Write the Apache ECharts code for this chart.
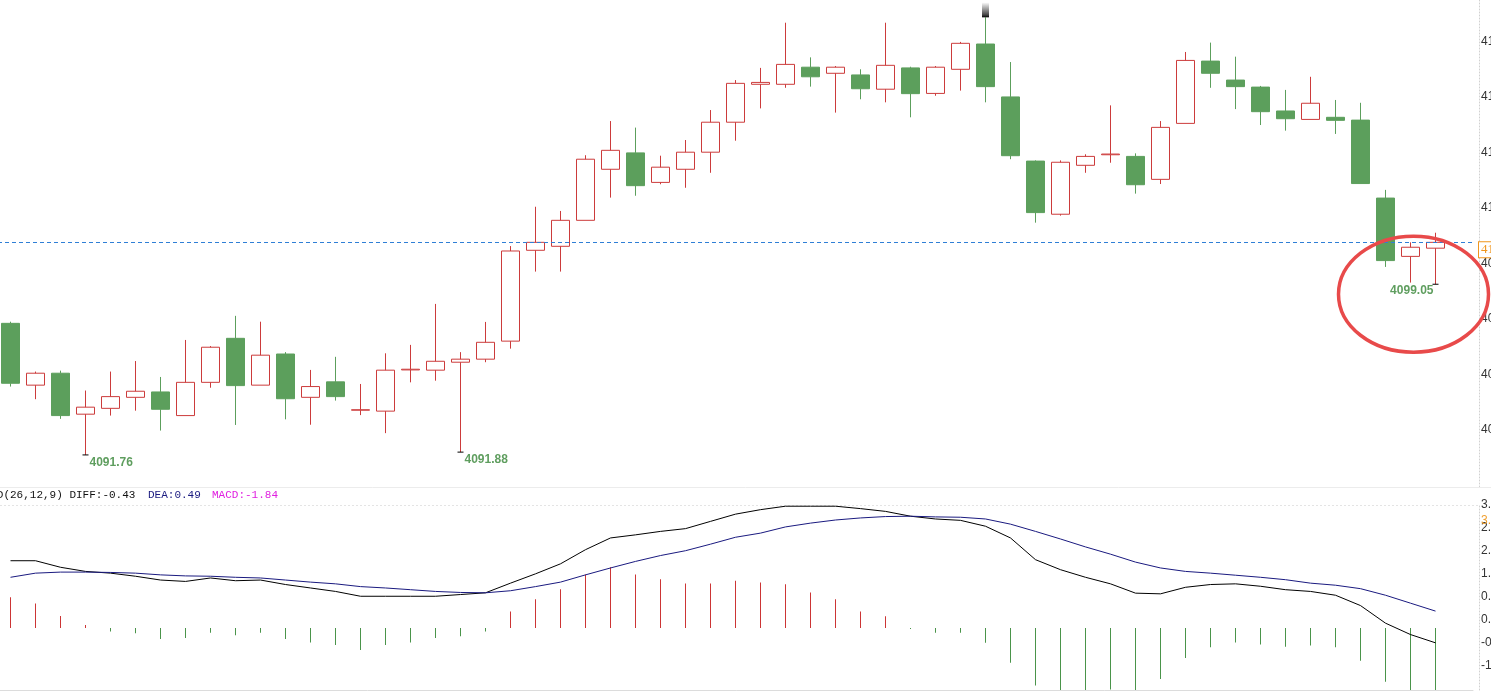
<!DOCTYPE html>
<html><head><meta charset="utf-8">
<script src="https://cdn.jsdelivr.net/npm/echarts@6/dist/echarts.min.js"></script>
<style>html,body{margin:0;padding:0;background:#fff;overflow:hidden;}#c{width:1491px;height:693px;}</style>
</head><body><div id="c"></div>
<script>
const categories = ['1','2','3','4','5','6','7','8','9','10','11','12','13','14','15','16','17','18','19','20',
  '21','22','23','24','25','26','27','28','29','30','31','32','33','34','35','36','37','38','39','40',
  '41','42','43','44','45','46','47','48','49','50','51','52','53','54','55','56','57','58'];
const opens = [4097.38,4094.74,4095.25,4093.50,4093.75,4094.22,4094.45,4093.44,4094.86,4096.74,
  4094.74,4096.07,4094.22,4094.88,4093.67,4093.63,4095.39,4095.38,4095.72,4095.85,
  4096.62,4100.50,4100.67,4101.78,4103.96,4104.66,4103.40,4103.96,4104.69,4105.97,
  4107.59,4107.59,4108.32,4108.06,4107.99,4107.38,4108.29,4107.20,4108.23,4109.31,
  4107.05,4104.31,4102.04,4104.13,4104.58,4104.51,4103.53,4105.92,4108.58,4107.77,
  4107.47,4106.45,4106.09,4106.18,4106.06,4102.73,4100.24,4100.59];
const closes = [4094.82,4095.25,4093.44,4093.80,4094.25,4094.48,4093.71,4094.86,4096.36,4094.72,
  4096.02,4094.16,4094.68,4094.25,4093.69,4095.38,4095.42,4095.76,4095.85,4096.57,
  4100.47,4100.84,4101.78,4104.39,4104.77,4103.26,4104.05,4104.69,4105.97,4107.63,
  4107.67,4108.44,4107.91,4108.32,4107.40,4108.40,4107.19,4108.32,4109.34,4107.49,
  4104.54,4102.11,4104.26,4104.51,4104.61,4103.30,4105.75,4108.61,4108.06,4107.49,
  4106.42,4106.12,4106.78,4106.05,4103.35,4100.06,4100.63,4100.84];
const lows = [4094.68,4094.14,4093.30,4091.76,4093.44,4093.65,4092.80,4093.44,4094.63,4093.04,
  4094.74,4093.28,4093.05,4094.08,4093.46,4092.69,4094.86,4094.93,4091.88,4095.72,
  4096.30,4099.59,4099.59,4101.78,4102.75,4102.83,4103.32,4103.17,4103.81,4105.18,
  4106.56,4107.44,4107.49,4106.38,4106.95,4106.82,4106.18,4107.10,4107.32,4106.82,
  4104.39,4101.68,4101.98,4103.81,4104.24,4102.92,4103.33,4105.92,4107.44,4106.53,
  4105.85,4105.61,4106.09,4105.47,4103.35,4099.79,4099.12,4099.05];
const highs = [4097.45,4095.32,4095.36,4094.51,4095.32,4095.77,4095.09,4096.67,4096.41,4097.70,
  4097.45,4096.15,4095.39,4095.95,4094.79,4096.10,4096.46,4098.21,4096.15,4097.44,
  4100.68,4102.36,4102.18,4104.56,4106.02,4105.74,4104.54,4105.21,4106.49,4107.77,
  4108.29,4110.22,4108.74,4108.37,4108.23,4110.22,4108.34,4108.37,4109.40,4110.45,
  4108.54,4104.34,4104.34,4104.60,4106.69,4104.64,4106.02,4108.97,4109.37,4108.77,
  4107.52,4107.35,4107.91,4106.92,4106.80,4103.08,4100.84,4101.25];
const diffValues = [1.95,1.95,1.76,1.64,1.59,1.50,1.39,1.35,1.45,1.37,1.39,1.26,1.16,1.06,0.92,0.92,0.92,0.92,0.97,1.02,
  1.30,1.57,1.86,2.27,2.61,2.70,2.80,2.88,3.09,3.30,3.43,3.53,3.53,3.53,3.46,3.38,3.24,3.16,3.12,2.95,
  2.61,1.98,1.69,1.47,1.28,1.01,0.99,1.18,1.26,1.28,1.21,1.11,1.06,0.95,0.65,0.14,-0.19,-0.43];
const deaValues = [1.47,1.59,1.62,1.62,1.61,1.59,1.54,1.51,1.50,1.47,1.45,1.39,1.33,1.28,1.20,1.16,1.11,1.06,1.03,1.02,
  1.08,1.20,1.33,1.54,1.74,1.93,2.10,2.24,2.43,2.63,2.75,2.93,3.04,3.13,3.19,3.23,3.24,3.22,3.21,3.16,
  3.01,2.80,2.58,2.35,2.14,1.91,1.74,1.64,1.59,1.53,1.47,1.40,1.30,1.24,1.14,0.95,0.72,0.49];
const macdValues = [0.89,0.71,0.35,0.09,-0.10,-0.15,-0.32,-0.29,-0.14,-0.21,-0.14,-0.32,-0.42,-0.49,-0.64,-0.49,-0.42,-0.29,-0.24,-0.10,
  0.48,0.83,1.12,1.55,1.76,1.55,1.41,1.29,1.29,1.37,1.32,1.27,1.03,0.83,0.48,0.34,-0.03,-0.14,-0.14,-0.43,
  -1.01,-1.67,-1.85,-1.80,-1.78,-1.82,-1.48,-0.87,-0.56,-0.42,-0.48,-0.54,-0.51,-0.56,-0.95,-1.56,-1.86,-1.84];
const priceTicks = [4092.83,4095.20,4097.57,4099.94,4102.31,4104.68,4107.05,4109.42];
const macdTicks = [-1.10,-0.43,0.23,0.90,1.57,2.23,2.90,3.56];
const priceExtent = [4090.39, 4111.19];
const macdExtent = [-1.797, 3.565];
const macdRefValue = 3.10;
const labeledLows = [3, 18, 57];
const highMarkIndex = 39;

const RED = '#cc3b3b', GREEN = '#5c9f5c', LABEL_GREEN = '#5f9e5f';
const slots = categories.concat(['']);
const candleData = categories.map((c, i) => [opens[i], closes[i], lows[i], highs[i]]);
const lastIdx = categories.length - 1;

const lowMarks = labeledLows.map((i) => {
  const rightSide = i === lastIdx;
  return {
    coord: [categories[i], lows[i]], value: lows[i].toFixed(2),
    symbol: 'rect', symbolSize: [6, 1], itemStyle: { color: '#000' },
    label: {
      show: true, formatter: '{c}', position: rightSide ? [1, 1] : [7, 2],
      align: rightSide ? 'right' : 'left', verticalAlign: 'top',
      color: LABEL_GREEN, fontWeight: 'bold', fontSize: 12, fontFamily: 'Arial'
    }
  };
});
lowMarks.push({
  coord: [categories[highMarkIndex], highs[highMarkIndex]], value: '',
  symbol: 'rect', symbolSize: [7, 15], symbolOffset: [0, '-50%'],
  itemStyle: { color: new echarts.graphic.LinearGradient(0, 0, 0, 1, [
    { offset: 0, color: 'rgba(0,0,0,0)' }, { offset: 0.85, color: 'rgba(0,0,0,0.75)' }, { offset: 1, color: '#000' }]) },
  label: { show: false }
});

const fmt = v => v.toFixed(2);
const monoFont = '11px "Liberation Mono", "DejaVu Sans Mono", monospace';
const headerGraphics = [
  { type: 'text', id: 'h1', x: -23, y: 495, z: 50, style: { text: 'MACD(26,12,9) DIFF:' + fmt(diffValues[lastIdx]), font: monoFont, fill: '#111', verticalAlign: 'middle' } },
  { type: 'text', id: 'h2', x: 148, y: 495, z: 50, style: { text: 'DEA:' + fmt(deaValues[lastIdx]), font: monoFont, fill: '#1a1a80', verticalAlign: 'middle' } },
  { type: 'text', id: 'h3', x: 212, y: 495, z: 50, style: { text: 'MACD:' + fmt(macdValues[lastIdx]), font: monoFont, fill: '#e020e0', verticalAlign: 'middle' } },
  { type: 'line', id: 'sep', z: 1, shape: { x1: 0, y1: 505.5, x2: 1478, y2: 505.5 }, style: { stroke: '#e4e4e4', lineWidth: 1, lineDash: [2, 2] } },
  { type: 'line', id: 'sep0', z: 1, shape: { x1: 0, y1: 487.5, x2: 1491, y2: 487.5 }, style: { stroke: '#ececec', lineWidth: 1 } }
];

const axisLabelBase = { margin: 2, color: '#333', fontSize: 12, fontFamily: 'Arial' };
const chart = echarts.init(document.getElementById('c'), null, { renderer: 'canvas' });
chart.setOption({
  animation: false,
  backgroundColor: '#fff',
  grid: [
    { left: -2, width: 1475, top: 0, height: 487, outerBoundsMode: 'none', containLabel: false },
    { left: -2, width: 1475, top: 505, height: 185, outerBoundsMode: 'none', containLabel: false }
  ],
  xAxis: [
    { gridIndex: 0, type: 'category', data: slots, boundaryGap: true, axisLine: { show: false }, axisTick: { show: false }, axisLabel: { show: false }, splitLine: { show: false } },
    { gridIndex: 1, type: 'category', data: slots, boundaryGap: true, axisLine: { show: true, onZero: false, lineStyle: { color: '#dcdcdc' } }, axisTick: { show: false }, axisLabel: { show: false }, splitLine: { show: false } }
  ],
  yAxis: [
    { gridIndex: 0, type: 'value', position: 'right', offset: 6, min: priceExtent[0], max: priceExtent[1], scale: true,
      axisLine: { show: true, lineStyle: { color: '#d0d0d0', type: [1, 2] } }, axisTick: { show: false }, splitLine: { show: false },
      axisLabel: Object.assign({ customValues: priceTicks, formatter: v => v.toFixed(2) }, axisLabelBase) },
    { gridIndex: 1, type: 'value', position: 'right', offset: 6, min: macdExtent[0], max: macdExtent[1],
      axisLine: { show: true, lineStyle: { color: '#d0d0d0', type: [1, 2] } }, axisTick: { show: false }, splitLine: { show: false },
      axisLabel: Object.assign({ customValues: macdTicks, formatter: v => v.toFixed(2) }, axisLabelBase) }
  ],
  series: [
    { type: 'candlestick', xAxisIndex: 0, yAxisIndex: 0, data: candleData, barWidth: 19,
      itemStyle: { color: '#ffffff', color0: GREEN, borderColor: RED, borderColor0: GREEN, borderWidth: 1 },
      markPoint: { silent: true, animation: false, data: lowMarks },
      markLine: { silent: true, animation: false, symbol: 'none',
        data: [{ yAxis: closes[lastIdx] }],
        lineStyle: { color: '#2f7fd6', type: [4, 3], width: 1 },
        label: { show: true, position: 'end', distance: 6, formatter: p => p.value.toFixed(2), color: '#f0961e',
          borderColor: '#f0961e', borderWidth: 1, backgroundColor: '#fff', padding: [1, 2, 1, 2],
          fontFamily: '"Liberation Serif", serif', fontSize: 13, verticalAlign: 'top' },
        emphasis: { disabled: true } } },
    { type: 'bar', xAxisIndex: 1, yAxisIndex: 1, data: macdValues, barWidth: 1,
      itemStyle: { color: p => p.value >= 0 ? '#cc3535' : '#4a944a' },
      markLine: { silent: true, animation: false, symbol: 'none', data: [{ yAxis: macdRefValue }],
        lineStyle: { color: 'rgba(0,0,0,0)', width: 0 },
        label: { show: true, position: 'end', distance: 8, formatter: p => p.value.toFixed(2), color: '#f0a030', fontSize: 12, fontFamily: 'Arial' },
        emphasis: { disabled: true } } },
    { type: 'line', xAxisIndex: 1, yAxisIndex: 1, data: diffValues, symbol: 'none', lineStyle: { color: '#000', width: 1 }, itemStyle: { color: '#000' } },
    { type: 'line', xAxisIndex: 1, yAxisIndex: 1, data: deaValues, symbol: 'none', lineStyle: { color: '#1a1a80', width: 1 }, itemStyle: { color: '#1a1a80' } }
  ],
  graphic: { elements: headerGraphics }
});

const anchor = chart.convertToPixel({ xAxisIndex: 0, yAxisIndex: 0 }, [categories[lastIdx], lows[lastIdx]]);
chart.setOption({
  graphic: { elements: headerGraphics.concat([{
    type: 'ellipse', id: 'circ', z: 100,
    shape: { cx: anchor[0] - 22, cy: anchor[1] + 10, rx: 75, ry: 58 },
    style: { fill: 'none', stroke: '#e84a4a', lineWidth: 3.5 }
  }]) }
});
</script>
</body></html>
